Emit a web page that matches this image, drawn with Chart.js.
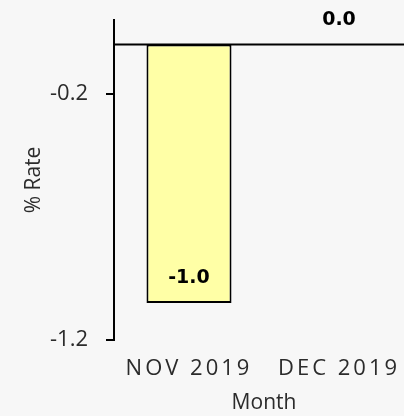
<!DOCTYPE html>
<html>
<head>
<meta charset="utf-8">
<script src="https://cdn.jsdelivr.net/npm/chart.js@4"></script>
<style>
  html, body { margin: 0; padding: 0; background: #f7f7f7; overflow: hidden; }
  #wrap { width: 414px; height: 416px; position: relative; }
</style>
</head>
<body>
<div id="wrap"><canvas id="chart"></canvas></div>
<script>
'use strict';

// values
const months = ['NOV 2019', 'DEC 2019'];
const rates = [-1.05, 0];
const rateLabels = ['-1.0', '0.0'];
const yTicks = [-1.2, -0.2];

const TEXT = '#2b2b2b';
const TICK_FONT = { family: 'Open Sans', size: 22 };
const TITLE_FONT = { family: 'Open Sans', size: 21 };

// thick zero line + value labels above each bar end
const barExtras = {
  id: 'barExtras',
  afterDatasetsDraw(chart) {
    const ctx = chart.ctx;
    const y = chart.scales.y;
    const zy = y.getPixelForValue(0);
    ctx.save();
    ctx.strokeStyle = '#000';
    ctx.lineWidth = 2;
    ctx.beginPath();
    ctx.moveTo(chart.chartArea.left, zy);
    ctx.lineTo(chart.width, zy);
    ctx.stroke();

    ctx.fillStyle = '#000';
    ctx.font = 'bold 19px "DejaVu Sans"';
    ctx.textAlign = 'center';
    ctx.textBaseline = 'middle';
    chart.getDatasetMeta(0).data.forEach((bar, i) => {
      ctx.fillText(rateLabels[i], bar.x, bar.y - 25);
    });
    ctx.restore();
    // x tick labels (z: 1) are drawn after this point, spaced out
    ctx.letterSpacing = '3px';
  },
  afterDraw(chart) {
    chart.ctx.letterSpacing = '0px';
  },
};

new Chart(document.getElementById('chart'), {
  type: 'bar',
  data: {
    labels: months,
    datasets: [{
      data: rates,
      backgroundColor: '#ffffa6',
      borderColor: '#000',
      borderWidth: 2,
      borderSkipped: false,
      barPercentage: 0.567,
      categoryPercentage: 1,
    }],
  },
  options: {
    responsive: true,
    maintainAspectRatio: false,
    animation: false,
    layout: { padding: { top: 20, left: 0, right: 0, bottom: 0 } },
    plugins: {
      legend: { display: false },
      tooltip: { enabled: false },
    },
    scales: {
      x: {
        grid: { display: false, drawTicks: false },
        border: { display: false },
        ticks: { color: TEXT, font: TICK_FONT, padding: 16, z: 1, maxRotation: 0 },
        title: { display: true, text: 'Month', color: TEXT, font: TITLE_FONT, padding: { top: 2, bottom: 0 } },
        afterFit: (s) => { s.height = 76; s.paddingLeft = 0; s.paddingRight = 0; },
      },
      y: {
        min: -1.2,
        max: 0.1,
        afterBuildTicks: (s) => { s.ticks = yTicks.map(v => ({ value: v })); },
        grid: { drawOnChartArea: false, color: '#000', lineWidth: 2, tickLength: 8 },
        border: { display: true, color: '#000', width: 2 },
        ticks: { color: TEXT, font: TICK_FONT, padding: 18, callback: (v) => v.toFixed(1) },
        title: { display: true, text: '% Rate', color: TEXT, font: TITLE_FONT, padding: { top: 21, bottom: 0 } },
        afterFit: (s) => { s.width = 114; s.paddingTop = 0; s.paddingBottom = 0; },
      },
    },
  },
  plugins: [barExtras],
});
</script>
</body>
</html>
